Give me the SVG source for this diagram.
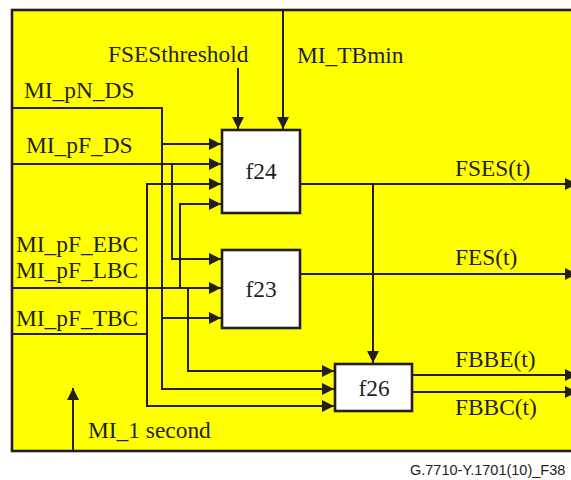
<svg xmlns="http://www.w3.org/2000/svg" width="571" height="480" viewBox="0 0 571 480">
<style>
  .t{font-family:"Liberation Serif","Times New Roman",serif;font-size:23.4px;fill:#231f20}
  .c{text-anchor:middle}
  .ln{fill:none;stroke:#231f20;stroke-width:2}
  .ar{marker-end:url(#ah)}
  .box{fill:#fff;stroke:#231f20;stroke-width:2.6}
  .ft{font-family:"Liberation Sans",Arial,sans-serif;font-size:14.5px;fill:#231f20}
</style>
<defs>
  <marker id="ah" markerUnits="userSpaceOnUse" markerWidth="12" markerHeight="12" refX="12" refY="6" orient="auto">
    <path d="M0,0 L12,6 L0,12 z" fill="#231f20"/>
  </marker>
</defs>
<rect width="571" height="480" fill="#fff"/>
<rect id="frame" x="12" y="10" width="600" height="441" fill="#ffff00" stroke="#231f20" stroke-width="2.6"/>

<g id="connectors">
  <!-- MI_pN_DS -->
  <path class="ln ar" d="M12,108 H162 V389 H334"/>
  <path class="ln ar" d="M162,144 H221"/>
  <path class="ln ar" d="M162,318 H221"/>
  <!-- MI_pF_DS -->
  <path class="ln ar" d="M12,164 H221"/>
  <path class="ln ar" d="M172,164 V259 H221"/>
  <!-- MI_pF_EBC / LBC -->
  <path class="ln ar" d="M12,288 H221"/>
  <path class="ln ar" d="M180,288 V204 H221"/>
  <path class="ln ar" d="M188,288 V371 H334"/>
  <!-- MI_pF_TBC -->
  <path class="ln ar" d="M12,334 H147 V406 H334"/>
  <path class="ln ar" d="M147,334 V184 H221"/>
  <!-- top inputs -->
  <path class="ln ar" d="M238,68 V129"/>
  <path class="ln ar" d="M283,10 V129"/>
  <!-- outputs -->
  <path class="ln ar" d="M300,184 H577"/>
  <path class="ln ar" d="M373,184 V363"/>
  <path class="ln ar" d="M300,274 H577"/>
  <path class="ln ar" d="M412,375 H577"/>
  <path class="ln ar" d="M412,392 H577"/>
  <!-- MI_1 second -->
  <path class="ln ar" d="M73,451 V388"/>
</g>

<g id="f24"><rect class="box" x="222" y="130" width="78" height="83"/><text class="t c" x="261" y="179">f24</text></g>
<g id="f23"><rect class="box" x="222" y="250" width="78" height="78"/><text class="t c" x="261" y="297">f23</text></g>
<g id="f26"><rect class="box" x="335" y="364" width="77" height="47"/><text class="t c" x="374" y="396">f26</text></g>

<g id="labels">
  <text class="t" x="108" y="62">FSESthreshold</text>
  <text class="t" x="297" y="63">MI_TBmin</text>
  <text class="t" x="24" y="98">MI_pN_DS</text>
  <text class="t" x="26" y="153">MI_pF_DS</text>
  <text class="t" x="16" y="252">MI_pF_EBC</text>
  <text class="t" x="16" y="278">MI_pF_LBC</text>
  <text class="t" x="16" y="326">MI_pF_TBC</text>
  <text class="t" x="455" y="176">FSES(t)</text>
  <text class="t" x="455" y="265">FES(t)</text>
  <text class="t" x="455" y="367">FBBE(t)</text>
  <text class="t" x="455" y="415">FBBC(t)</text>
  <text class="t" x="88" y="438">MI_1 second</text>
</g>
<text class="ft" x="410" y="475">G.7710-Y.1701(10)_F38</text>
</svg>
